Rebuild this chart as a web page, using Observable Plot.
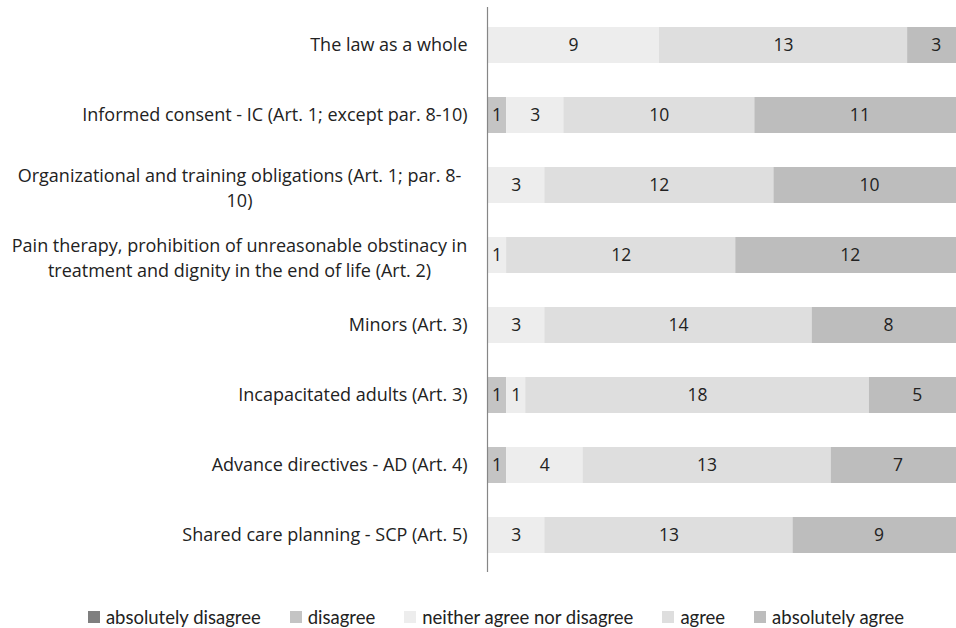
<!DOCTYPE html>
<html>
<head>
<meta charset="utf-8">
<script src="https://cdn.jsdelivr.net/npm/d3@7"></script>
<script src="https://cdn.jsdelivr.net/npm/@observablehq/plot@0.6"></script>
<style>
  html, body { margin: 0; padding: 0; background: #fff; }
  #chart { width: 956px; font-family: "Open Sans", sans-serif; }
  .legend { display: flex; justify-content: center; align-items: center; gap: 29px; font-family: Lato, sans-serif; font-size: 18.5px; color: #222; margin-top: 27px; padding-left: 36px; }
  .legend span.item { display: inline-flex; align-items: center; gap: 6px; }
  .legend span.sw { width: 12px; height: 12px; display: inline-block; }
</style>
</head>
<body>
<div id="chart"></div>
<script>
const categories = [
  "The law as a whole",
  "Informed consent - IC (Art. 1; except par. 8-10)",
  "Organizational and training obligations (Art. 1; par. 8-10)",
  "Pain therapy, prohibition of unreasonable obstinacy in treatment and dignity in the end of life (Art. 2)",
  "Minors (Art. 3)",
  "Incapacitated adults (Art. 3)",
  "Advance directives - AD (Art. 4)",
  "Shared care planning - SCP (Art. 5)"
];
const labelLines = [
  "The law as a whole",
  "Informed consent - IC (Art. 1; except par. 8-10)",
  "Organizational and training obligations (Art. 1; par. 8-\n10)",
  "Pain therapy, prohibition of unreasonable obstinacy in\ntreatment and dignity in the end of life (Art. 2)",
  "Minors (Art. 3)",
  "Incapacitated adults (Art. 3)",
  "Advance directives - AD (Art. 4)",
  "Shared care planning - SCP (Art. 5)"
];
const series = ["absolutely disagree", "disagree", "neither agree nor disagree", "agree", "absolutely agree"];
const absolutelyDisagree = [0, 0, 0, 0, 0, 0, 0, 0];
const disagree           = [0, 1, 0, 0, 0, 1, 1, 0];
const neither            = [9, 3, 3, 1, 3, 1, 4, 3];
const agree              = [13, 10, 12, 12, 14, 18, 13, 13];
const absolutelyAgree    = [3, 11, 10, 12, 8, 5, 7, 9];
const colors = ["#7f7f7f", "#c4c4c4", "#ededed", "#dedede", "#bdbdbd"];

const seriesValues = [absolutelyDisagree, disagree, neither, agree, absolutelyAgree];
const data = [];
categories.forEach((c, i) => {
  series.forEach((s, j) => {
    data.push({category: c, series: s, value: seriesValues[j][i]});
  });
});
const labelOf = new Map(categories.map((c, i) => [c, labelLines[i]]));
const wrapped = categories.filter((c, i) => labelLines[i].includes("\n"));
const single = categories.filter((c, i) => !labelLines[i].includes("\n"));

const chart = Plot.plot({
  width: 956,
  height: 579,
  marginLeft: 487,
  marginRight: 0,
  marginTop: 7,
  marginBottom: 7,
  style: {fontFamily: "'Open Sans', sans-serif", fontSize: "17px", color: "#222", background: "#fff"},
  x: {domain: [0, 24.56], axis: null},
  y: {domain: categories, paddingInner: 0.49, paddingOuter: 0.245, axis: null},
  color: {domain: series, range: colors},
  marks: [
    Plot.barX(data, Plot.stackX({x: "value", y: "category", fill: "series", order: series, clip: true})),
    Plot.textX(data.filter(d => d.value > 0), Plot.stackX({x: "value", y: "category", z: "series", order: series, text: d => String(d.value), fill: "#222", fontSize: 17.5})),
    Plot.axisY(single, {tickSize: 0, tickPadding: 20, label: null, tickFormat: d => labelOf.get(d), fontSize: 18, fill: "#222"}),
    Plot.axisY(wrapped, {tickSize: 0, tickPadding: 248, label: null, textAnchor: "middle", lineHeight: 1.4, dy: 1, tickFormat: d => labelOf.get(d), fontSize: 18, fill: "#222"}),
    Plot.ruleX([0], {stroke: "#868686", strokeWidth: 1.2})
  ]
});
document.getElementById("chart").appendChild(chart);

const legend = document.createElement("div");
legend.className = "legend";
series.forEach((s, j) => {
  const item = document.createElement("span");
  item.className = "item";
  const sw = document.createElement("span");
  sw.className = "sw";
  sw.style.background = colors[j];
  const t = document.createElement("span");
  t.textContent = s;
  item.appendChild(sw);
  item.appendChild(t);
  legend.appendChild(item);
});
document.getElementById("chart").appendChild(legend);
</script>
</body>
</html>
